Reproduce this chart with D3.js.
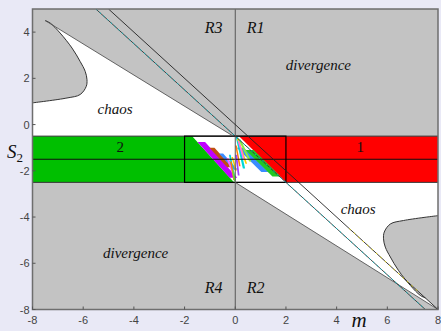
<!DOCTYPE html>
<html><head><meta charset="utf-8">
<script src="https://cdn.jsdelivr.net/npm/d3@7"></script>
<style>body{margin:0;background:#e9e9f6;} svg{display:block}</style>
</head><body><svg id="c" width="441" height="331"></svg>
<script>
// ---- data ----
const xTicks = [-8, -6, -4, -2, 0, 2, 4, 6, 8];
const yTicks = [-8, -6, -4, -2, 0, 2, 4];
const xDomain = [-8, 8];
const yDomain = [-8, 5];
const bandS = [-0.5, -1.5, -2.5];
const boxM = [-2, 2];
const leftCurveM = [-8.0, -6.64, -6.12, -5.88, -5.85, -5.92, -6.12, -6.44, -6.91, -7.30, -7.50];
const leftCurveS = [0.94, 1.15, 1.30, 1.65, 1.94, 2.30, 2.73, 3.31, 3.96, 4.39, 4.50];
const rightCurveM = [8.0, 6.64, 6.12, 5.88, 5.85, 5.92, 6.12, 6.44, 6.91, 7.30, 7.50];
const rightCurveS = [-3.94, -4.15, -4.30, -4.65, -4.94, -5.30, -5.73, -6.31, -6.96, -7.39, -7.50];
const upperEdgeM = [-7.5, -0.08], upperEdgeS = [4.5, -0.5];
const lowerEdgeM = [0, 8], lowerEdgeS = [-2.5, -8];
const greenM = [-8, -1.7, -0.05, -8], greenS = [-0.5, -0.5, -2.5, -2.5];
const redM = [0.15, 8, 8, 2.0], redS = [-0.5, -0.5, -2.5, -2.5];
const lineAM = [-5.5, 7.5], lineAS = [5, -8];
const lineBM = [-5, 8], lineBS = [5, -8];
const yellowM = [4.5, 7.2], yellowS = [-4.5, -7.2];
// stripes: top point, bottom point, width (in m)
const stripeColor = ["#c000ff", "#c05010", "#3a8cff", "#ff66ff", "#00d8d8", "#ffd000", "#ff8000", "#66dd44",
                     "#3a8cff", "#22c822", "#00d8d8", "#ffd000", "#ff66ff", "#ff8000", "#88ee44", "#a040ff"];
const stripeMTop =    [-1.49, -1.02, -0.64, -0.35, -0.25, -0.15, -0.20, -0.12,  0.06, 0.405, 0.02, 0.06, 0.10, 0.00, 0.12, 0.00];
const stripeSTop =    [-0.75, -1.00, -1.25, -1.45, -1.30, -1.40, -1.60, -2.00, -1.00, -1.10, -0.55, -0.60, -0.70, -0.90, -0.65, -1.30];
const stripeMBottom = [-0.22, -0.32, -0.06, -0.10, -0.05,  0.00, -0.08, -0.05,  1.03, 1.469, 0.30, 0.40, 0.30, 0.15, 0.55, 0.10];
const stripeSBottom = [-2.30, -1.85, -1.95, -2.20, -2.40, -2.00, -2.40, -2.45, -2.05, -2.25, -1.90, -1.70, -1.50, -1.80, -1.60, -2.20];
const stripeW =       [0.30, 0.20, 0.16, 0.08, 0.07, 0.06, 0.06, 0.07, 0.28, 0.32, 0.09, 0.07, 0.06, 0.06, 0.09, 0.07];
// text labels
const regionLabels = ["R3", "R1", "R4", "R2"];
const regionM = [-0.5, 0.45, -0.5, 0.45];
const regionS = [3.95, 3.95, -7.3, -7.3];
const regionAnchor = ["end", "start", "end", "start"];
const wordLabels = ["divergence", "divergence", "chaos", "chaos"];
const wordM = [3.28, -3.93, -4.74, 4.85];
const wordS = [2.36, -5.76, 0.46, -3.86];
const bandLabels = ["2", "1"];
const bandLabelM = [-4.54, 4.93];
const bandLabelS = [-1.18, -1.18];

// ---- drawing ----
const svg = d3.select("#c");
const x = d3.scaleLinear().domain(xDomain).range([32.5, 438]);
const y = d3.scaleLinear().domain(yDomain).range([309.5, 9]);
const pts = (ms, ss) => ms.map((m, i) => [x(m), y(ss[i])]);
const lin = d3.line();
const smooth = d3.line().curve(d3.curveCatmullRom.alpha(0.5));

svg.append("defs").append("clipPath").attr("id", "clip")
  .append("rect").attr("x", x(-8)).attr("y", y(5)).attr("width", x(8) - x(-8)).attr("height", y(-8) - y(5));
const g = svg.append("g").attr("clip-path", "url(#clip)");

g.append("rect").attr("x", x(-8)).attr("y", y(5)).attr("width", x(8) - x(-8)).attr("height", y(-8) - y(5)).attr("fill", "#c3c3c3");

// white upper-left
const lc = pts(leftCurveM, leftCurveS);
const w1 = "M" + [x(-8), y(bandS[0])] + smooth(lc).replace(/^M/, "L") + "L" + [x(upperEdgeM[1]), y(upperEdgeS[1])] + "Z";
g.append("path").attr("d", w1).attr("fill", "#fff");
// white lower-right
const rc = pts(rightCurveM, rightCurveS);
const w2 = "M" + [x(lowerEdgeM[0]), y(lowerEdgeS[0])] + "L" + [x(8), y(bandS[2])] + smooth(rc).replace(/^M/, "L") + "L" + [x(lowerEdgeM[1]), y(lowerEdgeS[1])] + "Z";
g.append("path").attr("d", w2).attr("fill", "#fff");
// box interior white
g.append("rect").attr("x", x(boxM[0])).attr("y", y(bandS[0])).attr("width", x(boxM[1]) - x(boxM[0])).attr("height", y(bandS[2]) - y(bandS[0])).attr("fill", "#fff");
// green and red
g.append("path").attr("d", lin(pts(greenM, greenS)) + "Z").attr("fill", "#00bf00");
g.append("path").attr("d", lin(pts(redM, redS)) + "Z").attr("fill", "#ff0000");
// stripes
stripeColor.forEach((c, i) => {
  const poly = [[stripeMTop[i], stripeSTop[i]], [stripeMTop[i] + stripeW[i], stripeSTop[i]],
                [stripeMBottom[i] + stripeW[i], stripeSBottom[i]], [stripeMBottom[i], stripeSBottom[i]]];
  g.append("path").attr("d", lin(poly.map(p => [x(p[0]), y(p[1])])) + "Z").attr("fill", c);
});
// band lines
bandS.forEach(s => g.append("line").attr("x1", x(-8)).attr("x2", x(8)).attr("y1", y(s)).attr("y2", y(s))
  .attr("stroke", s === bandS[1] ? "#111" : "#333").attr("stroke-width", 1));
g.append("rect").attr("x", x(boxM[0])).attr("y", y(bandS[0])).attr("width", x(boxM[1]) - x(boxM[0])).attr("height", y(bandS[2]) - y(bandS[0]))
  .attr("fill", "none").attr("stroke", "#000").attr("stroke-width", 1.2);
// vertical line at m=0
g.append("line").attr("x1", x(0)).attr("x2", x(0)).attr("y1", y(5)).attr("y2", y(-8)).attr("stroke", "#555").attr("stroke-width", 1);
// boundary outlines
g.append("path").attr("d", smooth(lc)).attr("fill", "none").attr("stroke", "#333").attr("stroke-width", 1);
g.append("path").attr("d", smooth(rc)).attr("fill", "none").attr("stroke", "#333").attr("stroke-width", 1);
g.append("path").attr("d", lin(pts(upperEdgeM, upperEdgeS))).attr("fill", "none").attr("stroke", "#555").attr("stroke-width", 0.9);
g.append("path").attr("d", lin(pts(lowerEdgeM, lowerEdgeS))).attr("fill", "none").attr("stroke", "#555").attr("stroke-width", 0.9);
// lines A and B
g.append("path").attr("d", lin(pts(lineAM, lineAS))).attr("stroke", "#333").attr("stroke-width", 0.9).attr("fill", "none");
g.append("path").attr("d", lin(pts(lineAM, lineAS))).attr("stroke", "#00b8c0").attr("stroke-width", 0.9).attr("stroke-dasharray", "2,3").attr("fill", "none");
g.append("path").attr("d", lin(pts(lineBM, lineBS))).attr("stroke", "#222").attr("stroke-width", 0.9).attr("fill", "none");
g.append("path").attr("d", lin(pts(yellowM, yellowS))).attr("stroke", "#e8d800").attr("stroke-width", 0.9).attr("stroke-dasharray", "2,4").attr("fill", "none");

// frame
svg.append("rect").attr("x", x(-8)).attr("y", y(5)).attr("width", x(8) - x(-8)).attr("height", y(-8) - y(5))
  .attr("fill", "none").attr("stroke", "#6e6e6e").attr("stroke-width", 1.5);

// ticks
svg.selectAll(".yt").data(yTicks).enter().append("line")
  .attr("x1", x(-8)).attr("x2", x(-8) + 3).attr("y1", d => y(d)).attr("y2", d => y(d)).attr("stroke", "#555");
svg.selectAll(".xt").data(xTicks).enter().append("line")
  .attr("y1", y(-8)).attr("y2", y(-8) - 3).attr("x1", d => x(d)).attr("x2", d => x(d)).attr("stroke", "#555");
svg.selectAll(".yl").data(yTicks).enter().append("text")
  .attr("x", 29.5).attr("y", d => y(d) + 4).attr("text-anchor", "end")
  .attr("font-family", "Liberation Sans, Arial, sans-serif").attr("font-size", 11).attr("fill", "#444")
  .text(d => String(d));
svg.selectAll(".xl").data(xTicks).enter().append("text")
  .attr("x", d => x(d)).attr("y", 323.5).attr("text-anchor", "middle")
  .attr("font-family", "Liberation Sans, Arial, sans-serif").attr("font-size", 11).attr("fill", "#444")
  .text(d => String(d));

const serif = "Liberation Serif, Times New Roman, serif";
regionLabels.forEach((t, i) => svg.append("text").attr("x", x(regionM[i])).attr("y", y(regionS[i]))
  .attr("text-anchor", regionAnchor[i]).attr("font-family", serif).attr("font-style", "italic").attr("font-size", 16).attr("fill", "#111").text(t));
wordLabels.forEach((t, i) => svg.append("text").attr("x", x(wordM[i])).attr("y", y(wordS[i]))
  .attr("text-anchor", "middle").attr("font-family", serif).attr("font-style", "italic").attr("font-size", 15).attr("fill", "#111").text(t));
bandLabels.forEach((t, i) => svg.append("text").attr("x", x(bandLabelM[i])).attr("y", y(bandLabelS[i]))
  .attr("text-anchor", "middle").attr("font-family", serif).attr("font-size", 15).attr("fill", "#111").text(t));

// axis titles
const st = svg.append("text").attr("x", 7).attr("y", 158).attr("font-family", serif).attr("font-style", "italic").attr("font-size", 19).attr("fill", "#111");
st.append("tspan").text("S");
st.append("tspan").attr("font-style", "normal").attr("font-size", 13).attr("dy", 4).text("2");
svg.append("text").attr("x", 359).attr("y", 327).attr("text-anchor", "middle").attr("font-family", serif).attr("font-style", "italic").attr("font-size", 21).attr("fill", "#111").text("m");
</script></body></html>
